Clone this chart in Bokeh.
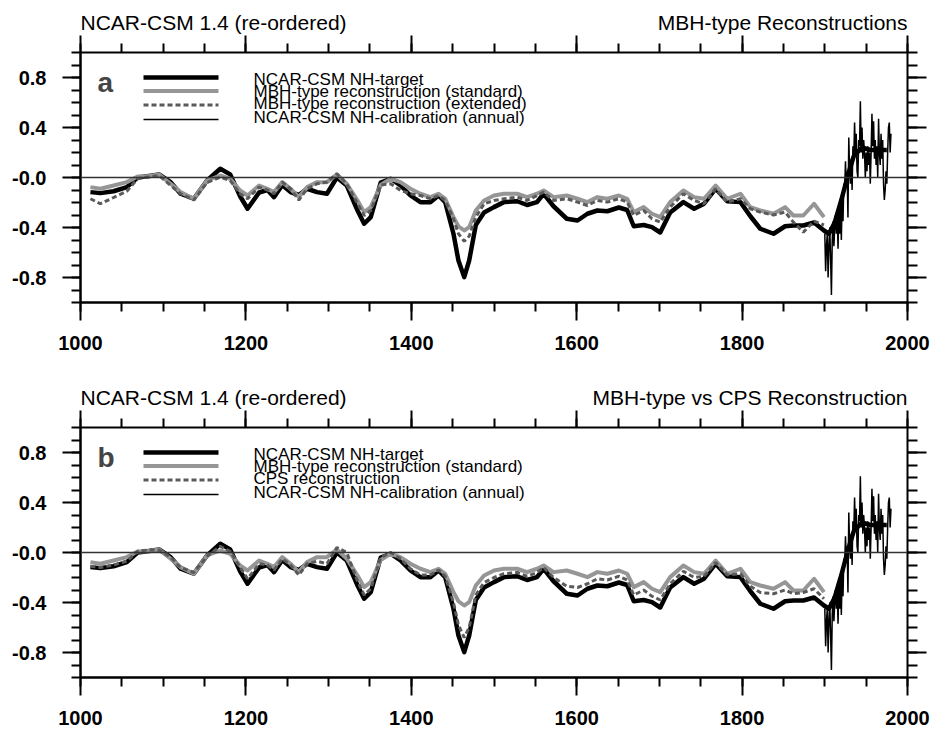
from bokeh.plotting import figure
from bokeh.models import Range1d, FixedTicker, LinearAxis, Span, Label
from bokeh.layouts import column
from bokeh.embed import file_html
from bokeh.resources import INLINE

# ---------------- data ----------------
years_smooth = [1012, 1024, 1040, 1056, 1069, 1081, 1095, 1109, 1121, 1137,
                1153, 1169, 1181, 1193, 1202, 1216, 1226, 1234, 1244, 1254,
                1264, 1274, 1286, 1298, 1310, 1322, 1335, 1343, 1351, 1363,
                1375, 1387, 1399, 1411, 1423, 1433, 1441, 1451, 1457, 1464,
                1470, 1478, 1488, 1500, 1512, 1528, 1540, 1552, 1560, 1572,
                1588, 1601, 1613, 1625, 1637, 1651, 1661, 1669, 1681, 1691,
                1701, 1713, 1729, 1742, 1754, 1768, 1782, 1798, 1810, 1822,
                1838, 1852, 1862, 1874, 1887, 1899]

target_smooth = [-0.117, -0.125, -0.11, -0.077, 0.0, 0.01, 0.024, -0.037, -0.13, -0.17,
                 -0.024, 0.07, 0.025, -0.15, -0.25, -0.12, -0.10, -0.157, -0.06, -0.117,
                 -0.14, -0.09, -0.117, -0.13, 0.0, -0.064, -0.264, -0.37, -0.317, -0.04,
                 -0.01, -0.064, -0.144, -0.197, -0.197, -0.144, -0.197, -0.45, -0.664, -0.797,
                 -0.664, -0.38, -0.28, -0.237, -0.197, -0.19, -0.22, -0.197, -0.13, -0.23,
                 -0.33, -0.344, -0.29, -0.264, -0.27, -0.24, -0.26, -0.39, -0.38, -0.397,
                 -0.44, -0.28, -0.197, -0.25, -0.21, -0.09, -0.19, -0.197, -0.31, -0.41,
                 -0.45, -0.39, -0.384, -0.384, -0.36, -0.424]

years_target_late = [1905, 1912, 1920, 1928, 1935, 1945, 1955, 1965, 1975]
target_late = [-0.45, -0.36, -0.18, 0.02, 0.17, 0.24, 0.22, 0.22, 0.22]

mbh_standard = [-0.077, -0.09, -0.064, -0.037, 0.008, 0.01, 0.024, -0.05, -0.117, -0.17,
                -0.024, 0.016, -0.01, -0.104, -0.144, -0.064, -0.09, -0.117, -0.037, -0.09,
                -0.157, -0.077, -0.037, -0.037, 0.024, -0.05, -0.184, -0.277, -0.237, -0.06,
                -0.01, -0.037, -0.09, -0.13, -0.157, -0.13, -0.17, -0.317, -0.39, -0.424,
                -0.397, -0.264, -0.184, -0.144, -0.13, -0.13, -0.157, -0.13, -0.104, -0.157,
                -0.144, -0.17, -0.197, -0.157, -0.17, -0.144, -0.17, -0.277, -0.237, -0.29,
                -0.317, -0.197, -0.104, -0.157, -0.17, -0.064, -0.17, -0.13, -0.237, -0.264,
                -0.29, -0.237, -0.304, -0.304, -0.21, -0.317]

mbh_extended = [-0.17, -0.21, -0.16, -0.11, -0.01, 0.003, 0.016, -0.064, -0.13, -0.18,
                -0.04, 0.003, -0.024, -0.13, -0.17, -0.077, -0.10, -0.13, -0.037, -0.09,
                -0.18, -0.09, -0.05, -0.037, 0.03, -0.05, -0.21, -0.304, -0.264, -0.06,
                -0.05, -0.104, -0.13, -0.144, -0.17, -0.144, -0.184, -0.33, -0.45, -0.51,
                -0.47, -0.317, -0.21, -0.184, -0.17, -0.157, -0.184, -0.144, -0.117, -0.184,
                -0.17, -0.197, -0.224, -0.184, -0.197, -0.17, -0.197, -0.304, -0.264, -0.33,
                -0.357, -0.237, -0.13, -0.184, -0.21, -0.09, -0.197, -0.17, -0.25, -0.277,
                -0.30, -0.277, -0.357, -0.437, -0.35, -0.38]

cps_recon = [-0.11, -0.12, -0.10, -0.07, 0.01, 0.02, 0.02, -0.04, -0.12, -0.16,
             -0.03, 0.05, 0.01, -0.12, -0.21, -0.09, -0.10, -0.14, -0.05, -0.10,
             -0.18, -0.09, -0.07, -0.09, 0.04, 0.0, -0.23, -0.34, -0.29, -0.04,
             0.0, -0.05, -0.13, -0.18, -0.18, -0.14, -0.19, -0.40, -0.58, -0.68,
             -0.60, -0.34, -0.24, -0.20, -0.17, -0.16, -0.19, -0.16, -0.12, -0.20,
             -0.27, -0.28, -0.25, -0.21, -0.22, -0.19, -0.22, -0.34, -0.30, -0.35,
             -0.38, -0.25, -0.15, -0.20, -0.19, -0.08, -0.18, -0.17, -0.27, -0.32,
             -0.33, -0.30, -0.33, -0.32, -0.29, -0.37]

years_annual = list(range(1900, 1981))
calibration_annual = [-0.45, -0.75, -0.55, -0.45, -0.80, -0.55, -0.40, -0.65, -0.94, -0.50,
                      -0.35, -0.55, -0.40, -0.30, -0.45, -0.30, -0.57, -0.25, -0.45, -0.20,
                      -0.50, -0.15, -0.35, -0.05, -0.10, 0.13, -0.05, 0.05, -0.32, 0.32,
                      0.05, -0.05, 0.15, -0.10, 0.25, 0.15, 0.44, 0.20, 0.35, 0.05,
                      0.00, 0.30, 0.25, 0.61, 0.20, 0.40, 0.15, 0.30, 0.20, 0.00,
                      0.20, 0.05, 0.25, 0.10, 0.20, -0.05, 0.20, 0.51, 0.25, 0.45,
                      0.15, 0.30, 0.10, 0.25, 0.00, 0.47, 0.20, 0.10, 0.35, 0.15,
                      0.30, -0.05, -0.18, -0.10, 0.05, -0.05, 0.20, 0.40, 0.44, 0.20,
                      0.35]

x_major = [1000, 1200, 1400, 1600, 1800, 2000]
x_labels = ["1000", "1200", "1400", "1600", "1800", "2000"]
x_minor = [1000, 1050, 1100, 1150, 1200, 1250, 1300, 1350, 1400, 1450, 1500,
           1550, 1600, 1650, 1700, 1750, 1800, 1850, 1900, 1950, 2000]
y_major = [-0.8, -0.4, 0.0, 0.4, 0.8]
y_labels = ["-0.8", "-0.4", "-0.0", "0.4", "0.8"]
y_minor = [-1.0, -0.9, -0.8, -0.7, -0.6, -0.5, -0.4, -0.3, -0.2, -0.1, 0.0,
           0.1, 0.2, 0.3, 0.4, 0.5, 0.6, 0.7, 0.8, 0.9, 1.0]

title_left = "NCAR-CSM 1.4 (re-ordered)"
titles_right = ["MBH-type Reconstructions", "MBH-type vs CPS Reconstruction"]
panel_letters = ["a", "b"]
legend_a = ["NCAR-CSM NH-target", "MBH-type reconstruction (standard)",
            "MBH-type reconstruction (extended)", "NCAR-CSM NH-calibration (annual)"]
legend_b = ["NCAR-CSM NH-target", "MBH-type reconstruction (standard)",
            "CPS reconstruction", "NCAR-CSM NH-calibration (annual)"]

# ---------------- layout / style ----------------
FONT = "Liberation Sans"
WIDTH = 935
BORDER_L = 80
BORDER_R = 28
FRAME_W = WIDTH - BORDER_L - BORDER_R   # 827 px
FRAME_H = 250
STRIP_H = 35
MAJOR_LEN = 18
MINOR_LEN = 9

STYLE_TARGET = dict(line_color="black", line_width=4.5, line_join="round")
STYLE_STD = dict(line_color="#969696", line_width=4, line_join="round")
STYLE_DASH = dict(line_color="#5a5a5a", line_width=3, line_dash="5 3")
STYLE_CAL = dict(line_color="black", line_width=1.5)

# legend layout in pixels, measured from the frame's top-left corner
LEG_LINE_Y = [25, 38.5, 52.5, 67]
LEG_TEXT_Y = [26.5, 38.5, 51, 65]
LEG_X0, LEG_X1, LEG_TX = 63, 138, 173


def base_axis(ax):
    ax.axis_line_width = 2
    ax.axis_line_color = "black"
    ax.major_tick_line_width = 2
    ax.minor_tick_line_width = 2
    ax.major_tick_line_color = "black"
    ax.minor_tick_line_color = "black"
    ax.major_tick_in = 0
    ax.minor_tick_in = 0


def labelled_axis(major, minor, labels, standoff):
    ax = LinearAxis(ticker=FixedTicker(ticks=major, minor_ticks=minor))
    base_axis(ax)
    ax.major_tick_out = MAJOR_LEN
    ax.minor_tick_out = MINOR_LEN
    ax.major_label_text_font = FONT
    ax.major_label_text_font_size = "20px"
    ax.major_label_text_font_style = "bold"
    ax.major_label_text_color = "black"
    ax.major_label_overrides = dict(zip(major, labels))
    ax.major_label_standoff = standoff
    return ax


def tick_only_axis(positions, tick_out, tick_in):
    # tick marks only (no labelled major ticks, no axis line: the frame outline is the line)
    ax = LinearAxis(ticker=FixedTicker(ticks=[], minor_ticks=positions))
    base_axis(ax)
    ax.axis_line_color = None
    ax.major_tick_out = 0
    ax.minor_tick_out = tick_out
    ax.minor_tick_in = tick_in
    ax.major_label_standoff = 0
    return ax


def title_strip(idx):
    s = figure(width=WIDTH, height=STRIP_H, x_range=Range1d(0, 1), y_range=Range1d(0, 1),
               output_backend="svg", toolbar_location=None,
               x_axis_location=None, y_axis_location=None,
               min_border_left=BORDER_L, min_border_right=BORDER_R,
               min_border_top=0, min_border_bottom=0,
               outline_line_color=None, background_fill_color="white",
               border_fill_color="white")
    s.grid.visible = False
    s.add_layout(Label(x=0, y=13, x_units="screen", y_units="screen", text=title_left,
                       text_font=FONT, text_font_size="21px", text_color="black",
                       text_baseline="alphabetic", text_align="left"))
    s.add_layout(Label(x=FRAME_W, y=13, x_units="screen", y_units="screen",
                       text=titles_right[idx], text_font=FONT, text_font_size="21px",
                       text_color="black", text_baseline="alphabetic", text_align="right"))
    return s


def make_panel(idx, recon, legend_labels, bottom):
    top = MAJOR_LEN - 1
    p = figure(width=WIDTH, height=top + FRAME_H + bottom,
               x_range=Range1d(1000, 2000), y_range=Range1d(-1, 1),
               output_backend="svg", toolbar_location=None,
               x_axis_location=None, y_axis_location=None,
               min_border_left=BORDER_L, min_border_right=BORDER_R,
               min_border_top=top, min_border_bottom=bottom,
               outline_line_color="black", outline_line_width=2,
               background_fill_color="white", border_fill_color="white")
    p.grid.visible = False

    p.add_layout(labelled_axis(x_major, x_minor, x_labels, 15), "below")
    p.add_layout(labelled_axis(y_major, y_minor, y_labels, 16), "left")
    # top: short ticks next to the frame, then long ticks reaching back to the frame
    p.add_layout(tick_only_axis(x_minor, MINOR_LEN, 0), "above")
    p.add_layout(tick_only_axis(x_major, MAJOR_LEN - 1 - MINOR_LEN, MINOR_LEN), "above")
    p.add_layout(tick_only_axis(y_minor, MINOR_LEN + 1, 0), "right")
    p.add_layout(tick_only_axis(y_major, MAJOR_LEN + 1 - (MINOR_LEN + 1), MINOR_LEN + 1), "right")

    p.add_layout(Span(location=0, dimension="width", line_color="#333333", line_width=1.5))

    p.line(years_smooth + years_target_late, target_smooth + target_late, **STYLE_TARGET)
    p.line(years_smooth, mbh_standard, **STYLE_STD)
    p.line(years_smooth, recon, **STYLE_DASH)
    p.line(years_annual, calibration_annual, **STYLE_CAL)

    # legend: keys placed from pixel offsets inside the frame, texts as labels
    xr, yr = p.x_range, p.y_range
    kx0 = xr.start + LEG_X0 / FRAME_W * (xr.end - xr.start)
    kx1 = xr.start + LEG_X1 / FRAME_W * (xr.end - xr.start)
    for lab, ly, ty, st in zip(legend_labels, LEG_LINE_Y, LEG_TEXT_Y,
                               [STYLE_TARGET, STYLE_STD, STYLE_DASH, STYLE_CAL]):
        ky = yr.end - ly / FRAME_H * (yr.end - yr.start)
        p.line([kx0, kx1], [ky, ky], **st)
        p.add_layout(Label(x=LEG_TX, y=FRAME_H - ty, x_units="screen", y_units="screen",
                           text=lab, text_font=FONT, text_font_size="17px",
                           text_color="black", text_baseline="alphabetic"))

    p.add_layout(Label(x=17, y=FRAME_H - 29.5, x_units="screen", y_units="screen",
                       text=panel_letters[idx], text_font=FONT, text_font_size="28px",
                       text_font_style="bold", text_baseline="alphabetic"))
    return p


strip_a = title_strip(0)
pa = make_panel(0, mbh_extended, legend_a, 73)
strip_b = title_strip(1)
pb = make_panel(1, cps_recon, legend_b, 55)

layout = column(strip_a, pa, strip_b, pb, spacing=0)
open("out.html", "w").write(file_html(layout, INLINE))
